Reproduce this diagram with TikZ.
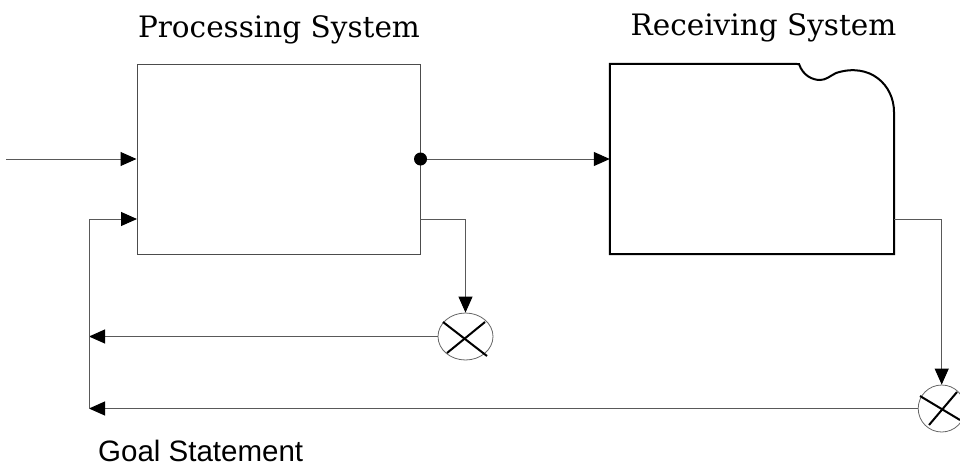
\documentclass[tikz,border=0pt]{standalone}
\usepackage{fontspec}
\newfontfamily\sysfont{DejaVu Serif}
\newfontfamily\goalfont{Liberation Sans}
\usetikzlibrary{arrows.meta,shapes.geometric}
\begin{document}
\begin{tikzpicture}[x=1pt,y=-1pt,
    wire/.style={draw=black!65,line width=1pt},
    tip/.style={-{Triangle[length=16pt,width=14pt,color=black]}},
    mult/.style={draw=black!60,line width=0.8pt,inner sep=0pt},
    cross/.style={line width=2pt},
    title/.style={anchor=base,font=\sysfont\fontsize{29.5}{32}\selectfont}]
  \useasboundingbox (0,0) rectangle (960,466);
  % the two systems
  \node[draw=black!70,line width=1pt,minimum width=283pt,minimum height=190pt,inner sep=0pt] (proc) at (278.5,159) {};
  \node[minimum width=284pt,minimum height=190pt,inner sep=0pt] (recv) at (752,159) {};
  \draw[line width=2pt] (recv.north west) -- (799,64)
    .. controls (803,76) and (813,80) .. (820,80)
    .. controls (826,80) and (830,76) .. (836,73)
    .. controls (870,62) and (894,85) .. (894,112)
    -- (recv.south east) -- (recv.south west) -- cycle;
  \node[title] (proc-title) at (279,37) {Processing System};
  \node[title] (recv-title) at (763.5,35) {Receiving System};
  % comparators
  \node[mult,ellipse,minimum width=55pt,minimum height=47pt] (m1) at (465.5,336.5) {};
  \node[mult,circle,minimum size=47pt] (m2) at (941.7,408.5) {};
  \draw[cross] ([shift={(-22.5,-14.5)}]m1.center) -- ([shift={(21.5,19.5)}]m1.center);
  \draw[cross] ([shift={(19.5,-14.5)}]m1.center) -- ([shift={(-18.5,16.5)}]m1.center);
  \draw[cross] ([shift={(-21.7,-12.5)}]m2.center) -- ([shift={(18.3,11.5)}]m2.center);
  \draw[cross] ([shift={(-12.7,16.5)}]m2.center) -- ([shift={(15.3,-16.5)}]m2.center);
  % signal flow
  \node[circle,fill,minimum size=13pt,inner sep=0pt] (tap) at (proc.east) {};
  \coordinate (src) at (6,159);
  \coordinate (p-out) at (420,219);
  \coordinate (r-out) at (894,219);
  \coordinate (fb-top) at (89,219);
  \coordinate (p-in) at (137,219);
  \draw[wire,tip] (src) -- (proc.west);
  \draw[wire,tip] (tap) -- (recv.west);
  \draw[wire,tip] (p-out) -| (m1.north);
  \draw[wire,tip] (r-out) -| (m2.north);
  \draw[wire,tip] (m1.west) -- (m1.west -| fb-top);
  \draw[wire,tip] (m2.west) -- (m2.west -| fb-top);
  \draw[wire,tip] (m2.west -| fb-top) -- (fb-top) -- (p-in);
  \node[anchor=base west,text depth=0pt,inner sep=1pt,font=\goalfont\fontsize{29.5}{32}\selectfont] (goal) at (97,461) {Goal Statement};
\end{tikzpicture}
\end{document}
